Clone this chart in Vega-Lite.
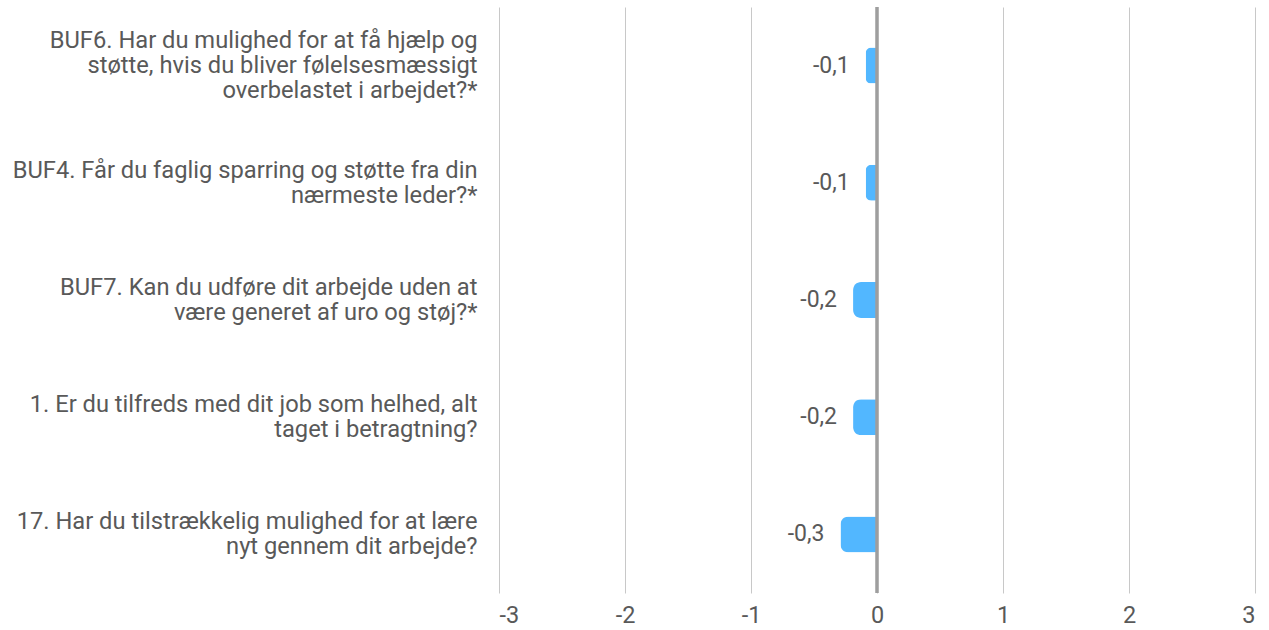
{
  "$schema": "https://vega.github.io/schema/vega-lite/v6.json",
  "width": 756,
  "height": 586,
  "autosize": {"type": "none"},
  "padding": {"left": 499, "top": 7, "right": 14, "bottom": 37},
  "background": "#ffffff",
  "config": {
    "view": {"stroke": null},
    "font": "Roboto",
    "locale": {
      "number": {"decimal": ",", "thousands": ".", "grouping": [3], "currency": ["", " kr."], "minus": "-"}
    }
  },
  "data": {
    "values": [
      {"q": "BUF6. Har du mulighed for at få hjælp og|støtte, hvis du bliver følelsesmæssigt|overbelastet i arbejdet?*", "v": -0.09},
      {"q": "BUF4. Får du faglig sparring og støtte fra din|nærmeste leder?*", "v": -0.09},
      {"q": "BUF7. Kan du udføre dit arbejde uden at|være generet af uro og støj?*", "v": -0.19},
      {"q": "1. Er du tilfreds med dit job som helhed, alt|taget i betragtning?", "v": -0.19},
      {"q": "17. Har du tilstrækkelig mulighed for at lære|nyt gennem dit arbejde?", "v": -0.29}
    ]
  },
  "encoding": {
    "y": {
      "field": "q",
      "type": "nominal",
      "sort": null,
      "title": null,
      "scale": {"paddingInner": 0.693, "paddingOuter": 0.3465},
      "axis": {
        "domain": false,
        "ticks": false,
        "grid": false,
        "labelExpr": "split(datum.label, '|')",
        "labelFontSize": 23.7,
        "labelLineHeight": 25,
        "labelColor": "#595959",
        "labelPadding": 22,
        "labelLimit": 0,
        "labelFont": "Roboto",
        "labelOffset": {"condition": {"test": "length(split(datum.value, '|')) == 3", "value": -24.5}, "value": -12}
      }
    }
  },
  "layer": [
    {
      "mark": {"type": "bar", "color": "#52B7FF", "cornerRadiusTopLeft": 8, "cornerRadiusBottomLeft": 8},
      "encoding": {
        "x": {
          "field": "v",
          "type": "quantitative",
          "title": null,
          "scale": {"domain": [-3, 3], "nice": false},
          "axis": {
            "values": [-3, -2, -1, 0, 1, 2, 3],
            "format": "d",
            "domain": false,
            "ticks": false,
            "grid": true,
            "gridColor": "#c8c8c8",
            "gridWidth": 1,
            "labelFontSize": 23.5,
            "labelColor": "#595959",
            "labelPadding": 10,
            "labelFont": "Roboto"
          }
        }
      }
    },
    {
      "mark": {"type": "rule", "color": "#9e9e9e", "strokeWidth": 2.5},
      "encoding": {"x": {"datum": 0, "type": "quantitative"}, "y": {"value": 0}, "y2": {"value": 586}}
    },
    {
      "mark": {"type": "text", "align": "right", "baseline": "middle", "dx": -16, "fontSize": 23, "color": "#595959", "font": "Roboto"},
      "encoding": {
        "x": {"field": "v", "type": "quantitative"},
        "text": {"field": "v", "type": "quantitative", "format": ".1f"}
      }
    }
  ]
}
